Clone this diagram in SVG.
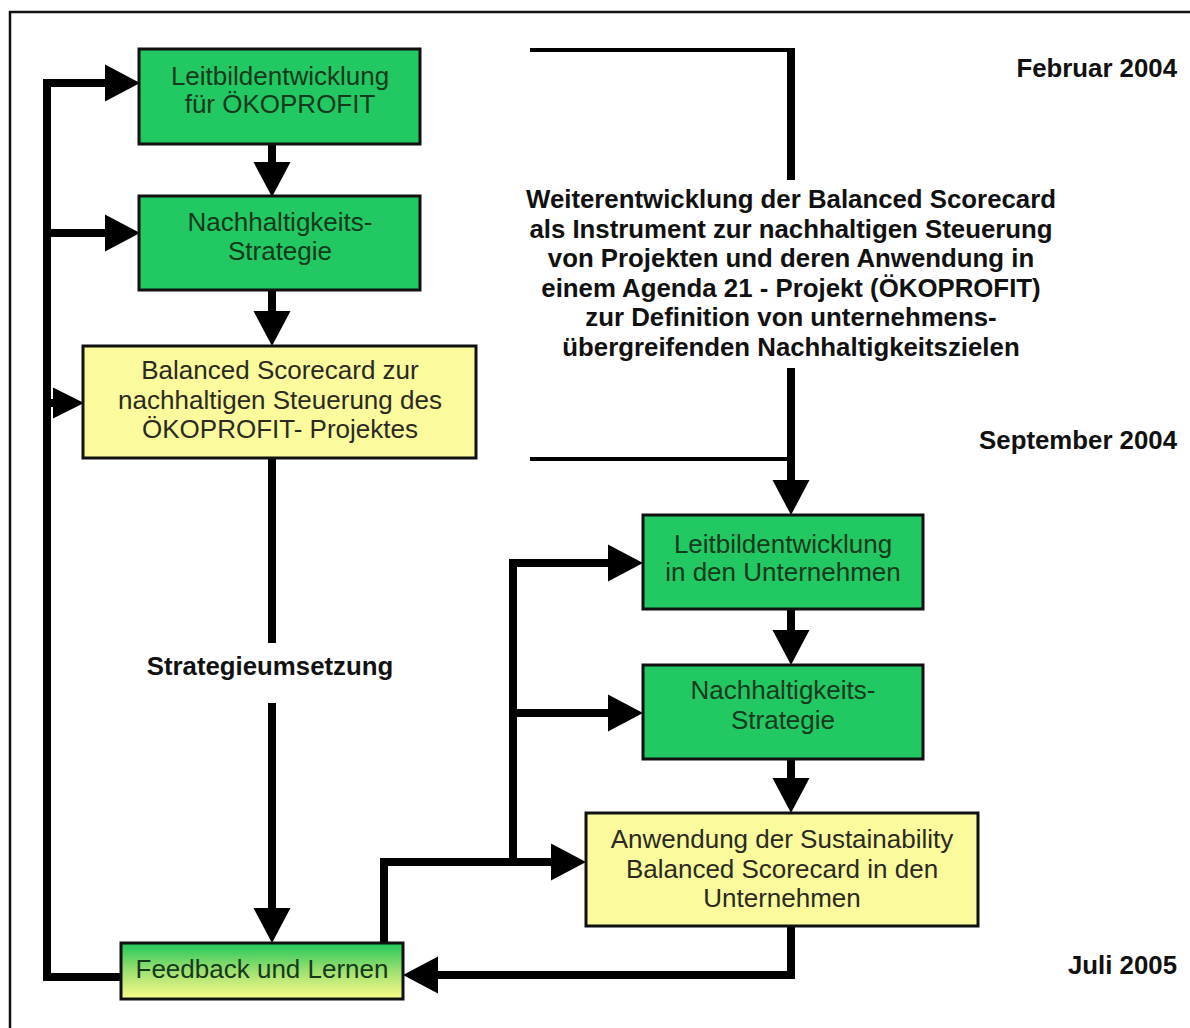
<svg xmlns="http://www.w3.org/2000/svg" width="1190" height="1028" viewBox="0 0 1190 1028">
  <style>
    .box { stroke: #111; stroke-width: 3; }
    .green { fill: #22c862; }
    .yellow { fill: #fbfa9c; }
    .t { font-family: "Liberation Sans", Arial, sans-serif; font-size: 26px; text-anchor: middle; }
    .tg { fill: #15391c; }
    .ty { fill: #2a2a22; }
    .lbl { font-family: "Liberation Sans", Arial, sans-serif; font-size: 25.8px; font-weight: bold; fill: #111; }
    .c { fill: none; stroke: #000; stroke-width: 8; stroke-linejoin: miter; stroke-linecap: butt; }
    .thin { fill: none; stroke: #000; stroke-width: 4; }
  </style>
  <defs>
    <marker id="ah" markerUnits="userSpaceOnUse" markerWidth="35" markerHeight="37" refX="0" refY="18.5" orient="auto" overflow="visible">
      <path d="M0,0 L35,18.5 L0,37 z" fill="#000"/>
    </marker>
    <marker id="ahs" markerUnits="userSpaceOnUse" markerWidth="31" markerHeight="31" refX="0" refY="15.5" orient="auto" overflow="visible">
      <path d="M0,0 L31,15.5 L0,31 z" fill="#000"/>
    </marker>
    <linearGradient id="gy" x1="0" y1="0" x2="0" y2="1">
      <stop offset="0" stop-color="#1fc85a"/>
      <stop offset="0.5" stop-color="#9ee070"/>
      <stop offset="1" stop-color="#fdfc8a"/>
    </linearGradient>
  </defs>
  <rect x="0" y="0" width="1190" height="1028" fill="#fff"/>
  <path d="M10,1030 V12 H1192" fill="none" stroke="#111" stroke-width="2.5"/>

  <g id="connectors">
    <path class="c" d="M121,977 H47 V83 H105" marker-end="url(#ah)"/>
    <path class="c" d="M47,233 H105" marker-end="url(#ah)"/>
    <path class="c" d="M47,403 H53" marker-end="url(#ahs)"/>
    <path class="c" d="M272,144 V162" marker-end="url(#ah)"/>
    <path class="c" d="M272,290 V311" marker-end="url(#ah)"/>
    <path class="c" d="M272,458 V643"/>
    <path class="c" d="M272,703 V908" marker-end="url(#ah)"/>
    <path class="thin" d="M530,50 H792"/>
    <path class="c" d="M791,48 V180"/>
    <path class="thin" d="M530,459 H792"/>
    <path class="c" d="M791,368 V480" marker-end="url(#ah)"/>
    <path class="c" d="M791,609 V630" marker-end="url(#ah)"/>
    <path class="c" d="M791,759 V778" marker-end="url(#ah)"/>
    <path class="c" d="M791,926 V975 H438" marker-end="url(#ah)"/>
    <path class="c" d="M384,943 V862 H551" marker-end="url(#ah)"/>
    <path class="c" d="M513,862 V563 H608" marker-end="url(#ah)"/>
    <path class="c" d="M513,713 H608" marker-end="url(#ah)"/>
  </g>

  <g id="n1">
    <rect class="box green" x="139" y="49" width="281" height="95"/>
    <text class="t tg" x="280" y="85">Leitbildentwicklung</text>
    <text class="t tg" x="280" y="113">für ÖKOPROFIT</text>
  </g>
  <g id="n2">
    <rect class="box green" x="139" y="196" width="281" height="94"/>
    <text class="t tg" x="280" y="231">Nachhaltigkeits-</text>
    <text class="t tg" x="280" y="260">Strategie</text>
  </g>
  <g id="n3">
    <rect class="box yellow" x="83" y="346" width="393" height="112"/>
    <text class="t ty" x="280" y="379">Balanced Scorecard zur</text>
    <text class="t ty" x="280" y="409">nachhaltigen Steuerung des</text>
    <text class="t ty" x="280" y="438">ÖKOPROFIT- Projektes</text>
  </g>
  <g id="n4">
    <rect class="box" fill="url(#gy)" x="121" y="943" width="282" height="56"/>
    <text class="t tg" x="262" y="978">Feedback und Lernen</text>
  </g>
  <g id="n5">
    <rect class="box green" x="643" y="515" width="280" height="94"/>
    <text class="t tg" x="783" y="553">Leitbildentwicklung</text>
    <text class="t tg" x="783" y="581">in den Unternehmen</text>
  </g>
  <g id="n6">
    <rect class="box green" x="643" y="665" width="280" height="94"/>
    <text class="t tg" x="783" y="699">Nachhaltigkeits-</text>
    <text class="t tg" x="783" y="729">Strategie</text>
  </g>
  <g id="n7">
    <rect class="box yellow" x="586" y="813" width="392" height="113"/>
    <text class="t ty" x="782" y="848">Anwendung der Sustainability</text>
    <text class="t ty" x="782" y="878">Balanced Scorecard in den</text>
    <text class="t ty" x="782" y="907">Unternehmen</text>
  </g>

  <g id="labels">
    <g class="lbl" text-anchor="middle">
      <text x="791" y="208">Weiterentwicklung der Balanced Scorecard</text>
      <text x="791" y="238">als Instrument zur nachhaltigen Steuerung</text>
      <text x="791" y="267">von Projekten und deren Anwendung in</text>
      <text x="791" y="297">einem Agenda 21 - Projekt (ÖKOPROFIT)</text>
      <text x="791" y="326">zur Definition von unternehmens-</text>
      <text x="791" y="356">übergreifenden Nachhaltigkeitszielen</text>
      <text x="270" y="675">Strategieumsetzung</text>
    </g>
    <g class="lbl" text-anchor="end">
      <text x="1177" y="77">Februar 2004</text>
      <text x="1177" y="449">September 2004</text>
      <text x="1177" y="974">Juli 2005</text>
    </g>
  </g>
</svg>
